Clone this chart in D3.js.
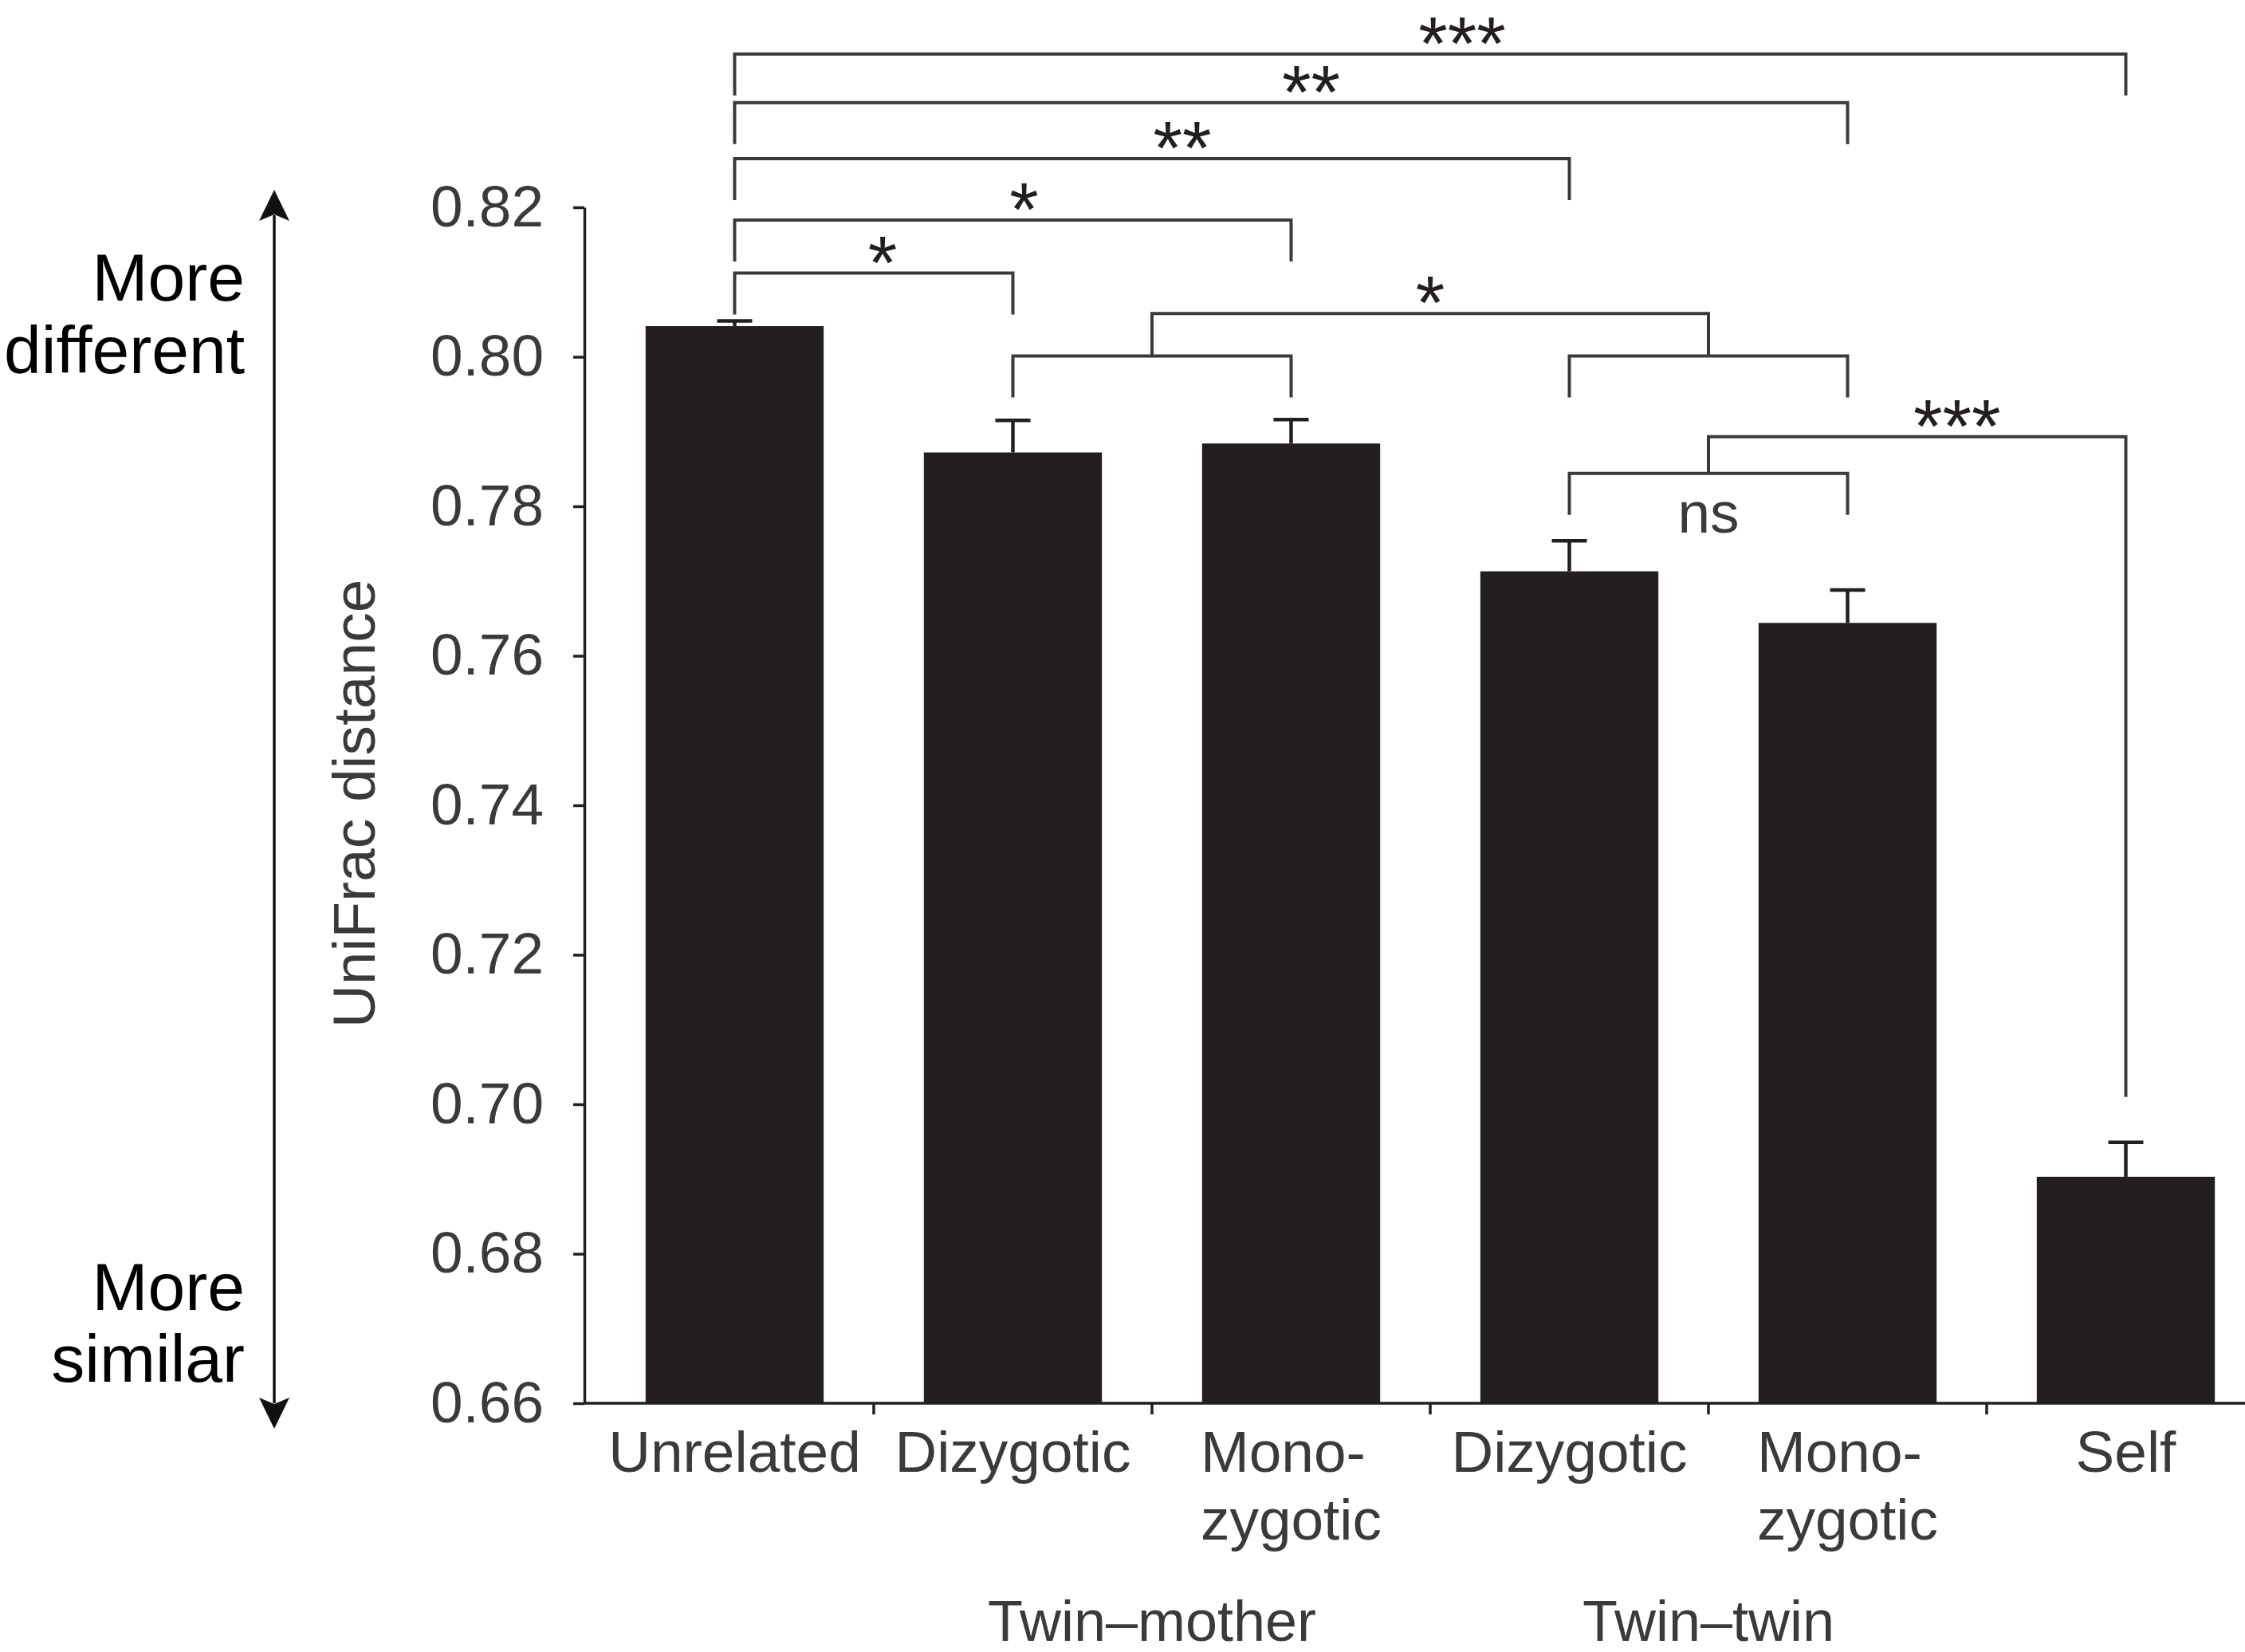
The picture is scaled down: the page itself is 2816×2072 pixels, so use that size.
<!DOCTYPE html><meta charset="utf-8">
<title>UniFrac distance bars</title>
<style>
  body{margin:0;background:#fff}
  svg{display:block}
  text{font-family:"Liberation Sans",Arial,sans-serif}
</style>
<script src="https://d3js.org/d3.v7.min.js"></script>
<body><script>
const W = 2816, H = 2072;

// ---- data ----
const keys     = ["unrel", "tmDz", "tmMz", "ttDz", "ttMz", "self"];
const labels   = [["Unrelated"], ["Dizygotic"], ["Mono-", "zygotic"], ["Dizygotic"], ["Mono-", "zygotic"], ["Self"]];
const values   = [0.8041, 0.7872, 0.7884, 0.7713, 0.7644, 0.6903];
const errors   = [0.0007, 0.0043, 0.0032, 0.0041, 0.0044, 0.0046];
const yTicks   = [0.66, 0.68, 0.70, 0.72, 0.74, 0.76, 0.78, 0.80, 0.82];
const groups   = [["Twin–mother", "tmDz", "tmMz"], ["Twin–twin", "ttDz", "ttMz"]];
// simple brackets: from, to, level (in UniFrac units), label
const brackets = [
  ["unrel", "self", 0.8405, "***"],
  ["unrel", "ttMz", 0.8340, "**"],
  ["unrel", "ttDz", 0.8265, "**"],
  ["unrel", "tmMz", 0.8183, "*"],
  ["unrel", "tmDz", 0.8112, "*"]
];
const labelShift = [40, 25, 38, 14, 11];   // px, label offset from bracket middle

// ---- scales ----
const y = d3.scaleLinear().domain([0.66, 0.82]).range([1760, 260]);
const x = d3.scaleBand().domain(keys).range([747, 747 + 6 * 349])
  .paddingInner(0.36).paddingOuter(0.18);
const cx = k => x(k) + x.bandwidth() / 2;
const step = x.step();

const svg = d3.select("body").append("svg").attr("width", W).attr("height", H);
const ink = "#231f20", grey = "#3a3a3a";

/* ---- bars + error bars ---- */
svg.selectAll("rect.bar").data(keys).join("rect")
  .attr("x", k => x(k)).attr("width", x.bandwidth())
  .attr("y", (k, i) => y(values[i])).attr("height", (k, i) => y(0.66) - y(values[i]))
  .attr("fill", ink);

const eb = svg.append("g").attr("stroke", ink).attr("stroke-width", 4.5);
keys.forEach((k, i) => {
  const top = y(values[i] + errors[i]);
  eb.append("line").attr("x1", cx(k)).attr("x2", cx(k)).attr("y1", y(values[i])).attr("y2", top);
  eb.append("line").attr("x1", cx(k) - 22).attr("x2", cx(k) + 22).attr("y1", top).attr("y2", top);
});

/* ---- y axis ---- */
const ya = svg.append("g").attr("transform", "translate(733,0)")
  .call(d3.axisLeft(y).tickValues(yTicks).tickFormat(d3.format(".2f"))
    .tickSize(14).tickSizeOuter(0).tickPadding(37));
ya.selectAll("path,line").attr("stroke", ink).attr("stroke-width", 3.5);
ya.selectAll("text").attr("font-size", 73).attr("fill", grey)
  .attr("font-family", "Liberation Sans, Arial, sans-serif");

svg.append("text").attr("transform", "translate(470,1008) rotate(-90)")
  .attr("text-anchor", "middle").attr("font-size", 75).attr("fill", grey)
  .text("UniFrac distance");

/* ---- x axis ---- */
svg.append("line").attr("x1", 733).attr("x2", W).attr("y1", y(0.66)).attr("y2", y(0.66))
  .attr("stroke", ink).attr("stroke-width", 3.5);
svg.selectAll("line.xt").data(keys.slice(1)).join("line")
  .attr("x1", k => x(k) - step * 0.18).attr("x2", k => x(k) - step * 0.18)
  .attr("y1", y(0.66)).attr("y2", y(0.66) + 14)
  .attr("stroke", ink).attr("stroke-width", 3.5);

keys.forEach((k, i) => {
  const t = svg.append("text").attr("font-size", 73).attr("fill", grey);
  labels[i].forEach((s, j) => t.append("tspan").attr("y", 1846 + j * 85).text(s));
  // block centred on the bar, lines left aligned
  const w = d3.max(t.selectAll("tspan").nodes(), n => n.getComputedTextLength());
  t.selectAll("tspan").attr("x", cx(k) - w / 2);
});

groups.forEach(([g, a, b]) => {
  svg.append("text").attr("x", (cx(a) + cx(b)) / 2).attr("y", 2058)
    .attr("text-anchor", "middle").attr("font-size", 72).attr("fill", grey).text(g);
});

/* ---- side arrow + captions ---- */
const ar = svg.append("g").attr("fill", "#111").attr("stroke", "#111");
ar.append("line").attr("x1", 344).attr("x2", 344).attr("y1", 270).attr("y2", 1760).attr("stroke-width", 3.5);
ar.append("path").attr("d", "M344,238 L325,277 L344,269 L363,277 Z").attr("stroke", "none");
ar.append("path").attr("d", "M344,1792 L325,1753 L344,1761 L363,1753 Z").attr("stroke", "none");

const side = [["More", 377], ["different", 468], ["More", 1643], ["similar", 1733]];
side.forEach(([s, yy]) => svg.append("text").attr("x", 307).attr("y", yy)
  .attr("text-anchor", "end").attr("font-size", 84).attr("fill", "#000").text(s));

/* ---- significance brackets ---- */
const br = svg.append("g").attr("fill", "none").attr("stroke", grey).attr("stroke-width", 4);
const leg = 52;
const star = (xx, yy, s) => svg.append("text").attr("x", xx).attr("y", yy + 19)
  .attr("text-anchor", "middle").attr("font-size", 94).attr("fill", ink).text(s);

function bracket(x1, x2, yy, l1, l2) {
  br.append("path").attr("d", `M${x1},${yy + l1} V${yy} H${x2} V${yy + l2}`);
}
brackets.forEach(([a, b, lv, s], i) => {
  bracket(cx(a), cx(b), y(lv), leg, leg);
  star((cx(a) + cx(b)) / 2 + labelShift[i], y(lv), s);
});

// twin-mother pair vs twin-twin pair
const pairY = y(0.8001), linkY = y(0.8058);
const mTm = (cx("tmDz") + cx("tmMz")) / 2, mTt = (cx("ttDz") + cx("ttMz")) / 2;
bracket(cx("tmDz"), cx("tmMz"), pairY, leg, leg);
bracket(cx("ttDz"), cx("ttMz"), pairY, leg, leg);
bracket(mTm, mTt, linkY, pairY - linkY, pairY - linkY);
star((mTm + mTt) / 2, linkY, "*");

// twin-twin ns, and vs self
const nsY = y(0.7844), selfY = y(0.7893);
bracket(cx("ttDz"), cx("ttMz"), nsY, leg, leg);
svg.append("text").attr("x", mTt).attr("y", 668).attr("text-anchor", "middle")
  .attr("font-size", 73).attr("fill", grey).text("ns");
bracket(mTt, cx("self"), selfY, nsY - selfY, y(0.701) - selfY);
star((mTt + cx("self")) / 2 + 50, selfY, "***");
</script>
